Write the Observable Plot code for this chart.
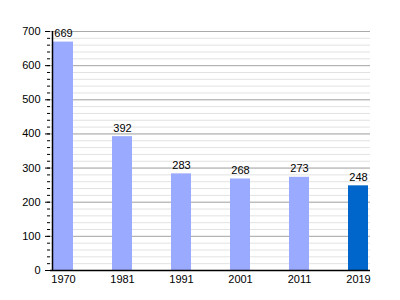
<!DOCTYPE html>
<html>
<head>
<meta charset="utf-8">
<script src="https://cdn.jsdelivr.net/npm/d3@7"></script>
<script src="https://cdn.jsdelivr.net/npm/@observablehq/plot@0.6"></script>
<style>
  html, body { margin: 0; padding: 0; background: #fff; }
  svg { font-family: "Liberation Sans", Arial, sans-serif; }
</style>
</head>
<body>
<div id="chart"></div>
<script>
const years = ["1970", "1981", "1991", "2001", "2011", "2019"];
const values = [669, 392, 283, 268, 273, 248];
const highlight = ["2019"];
const majorTicks = [0, 100, 200, 300, 400, 500, 600, 700];
const minorTicks = d3.range(0, 701, 20);

const data = years.map((y, i) => ({year: y, value: values[i], hi: highlight.includes(y)}));

const chart = Plot.plot({
  width: 400,
  height: 300,
  marginLeft: 50,
  marginRight: 30,
  marginTop: 31,
  marginBottom: 30,
  style: {fontFamily: "Liberation Sans, Arial, sans-serif", fontSize: "11px", color: "#000", background: "#fff"},
  x: {type: "band", domain: years, range: [51, 369], paddingInner: 0.664, paddingOuter: 0},
  y: {domain: [0, 700]},
  marks: [
    Plot.gridY(minorTicks, {stroke: "#e2e2e2", strokeOpacity: 1}),
    Plot.gridY(majorTicks, {stroke: "#aaaaaa", strokeOpacity: 1}),
    Plot.barY(data, {x: "year", y: "value", fill: d => d.hi ? "#0066cc" : "#99aaff"}),
    Plot.text(data, {x: "year", y: "value", text: d => String(d.value), lineAnchor: "bottom", dy: -5, fill: "#000", fontSize: 11}),
    Plot.ruleY([0], {stroke: "#000", strokeWidth: 1.5}),
    Plot.ruleX(years.slice(0, 1), {x: d => d, dx: -11, stroke: "#000", strokeWidth: 1.5}),
    Plot.axisY(minorTicks, {tickSize: 3, tickFormat: () => "", label: null, stroke: "#000"}),
    Plot.axisY(majorTicks, {tickSize: 5, tickPadding: 5, label: null, fill: "#000", fontSize: 11}),
    Plot.axisX({tickSize: 0, tickPadding: 5, label: null, fill: "#000", fontSize: 11})
  ]
});
document.getElementById("chart").appendChild(chart);
</script>
</body>
</html>
